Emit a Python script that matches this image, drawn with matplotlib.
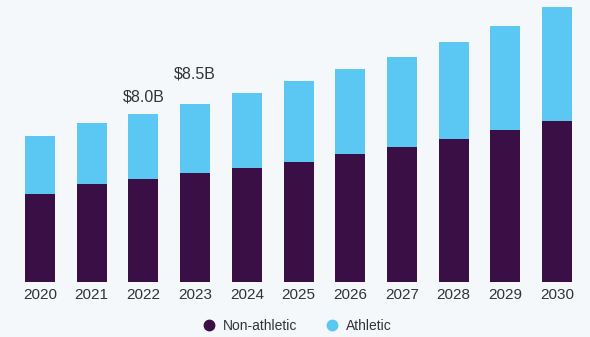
import matplotlib
matplotlib.use("Agg")
import matplotlib.pyplot as plt
from matplotlib.lines import Line2D

years = ["2020", "2021", "2022", "2023", "2024", "2025", "2026", "2027", "2028", "2029", "2030"]
non_athletic = [4.19, 4.65, 4.90, 5.18, 5.44, 5.70, 6.08, 6.44, 6.80, 7.24, 7.67]
athletic = [2.78, 2.94, 3.10, 3.32, 3.57, 3.87, 4.05, 4.29, 4.64, 4.94, 5.41]
annot_years = ["2022", "2023"]
annot_labels = ["$8.0B", "$8.5B"]

bg = "#f4f8fb"
dark = "#3a0f45"
light = "#5bc8f4"
txt = "#333333"

plt.rcParams['font.family'] = ['Liberation Sans', 'DejaVu Sans']

fig = plt.figure(figsize=(5.9, 3.37), dpi=100, facecolor=bg)
ax = fig.add_axes([0.024, 0.1632, 0.964, 0.8368], facecolor=bg)

x = list(range(len(years)))
w = 0.58
ax.bar(x, non_athletic, width=w, color=dark, label="Non-athletic")
ax.bar(x, athletic, width=w, bottom=non_athletic, color=light, label="Athletic")

offsets = [7, 16]
for (yr, lab), off in zip(zip(annot_years, annot_labels), offsets):
    i = years.index(yr)
    tot = non_athletic[i] + athletic[i]
    ax.annotate(lab.replace("$", r"\$"), (i, tot), xytext=(0, off), textcoords="offset points",
                ha="center", va="bottom", fontsize=11.5, color=txt)

ax.set_xlim(-0.5, len(years) - 0.5)
ax.set_ylim(0, 13.43)
ax.set_xticks(x)
ax.set_xticklabels(years, fontsize=11, color=txt)
ax.tick_params(axis="x", length=0, pad=4)
ax.set_yticks([])
for s in ax.spines.values():
    s.set_visible(False)

handles = [
    Line2D([], [], marker="o", linestyle="", markersize=7.5, color=dark, label="Non-athletic"),
    Line2D([], [], marker="o", linestyle="", markersize=7.5, color=light, label="Athletic"),
]
fig.legend(handles=handles, loc="center", bbox_to_anchor=(0.503, 0.032), ncol=2, frameon=False,
           fontsize=10, handlelength=1.0, handletextpad=0.5, columnspacing=2.0, labelcolor=txt)

fig.savefig("out.png", dpi=100, facecolor=bg)
